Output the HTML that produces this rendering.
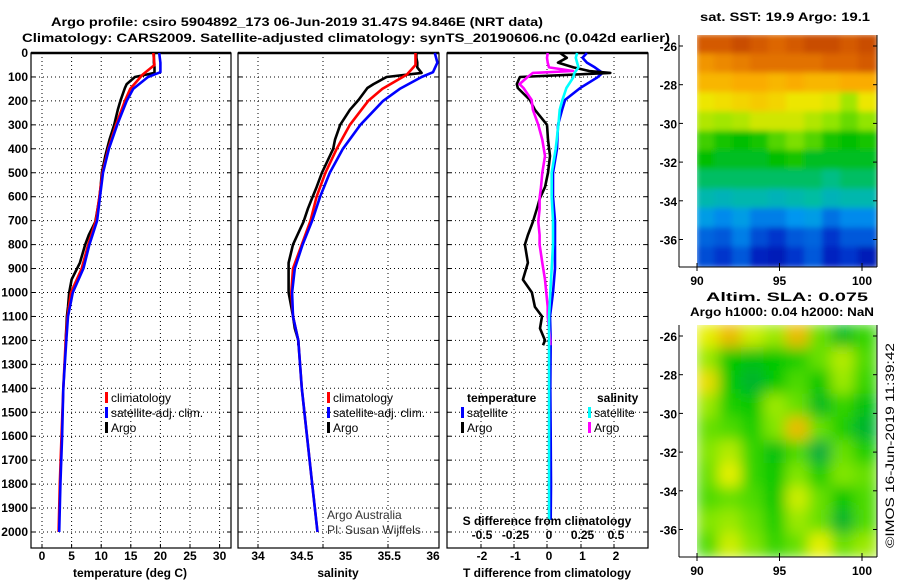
<!DOCTYPE html>
<html><head><meta charset="utf-8"><style>
body{margin:0;background:#fff;}
svg{display:block;font-family:"Liberation Sans",sans-serif;}
.b{font-weight:bold;font-size:12px;}
.t{font-size:12px;}
</style></head><body>
<svg id="s" width="900" height="580" viewBox="0 0 900 580">
<defs>
<filter id="blur1" x="0" y="0" width="1" height="1"><feGaussianBlur stdDeviation="3"/></filter>
<filter id="blur2" x="0" y="0" width="1" height="1"><feGaussianBlur stdDeviation="7"/></filter>
<clipPath id="c1"><rect x="697" y="35" width="180" height="232"/></clipPath>
<clipPath id="c2"><rect x="697" y="325" width="180" height="232"/></clipPath>
</defs>
<text x="51" y="26" class="b" font-size="14.5" textLength="492" lengthAdjust="spacingAndGlyphs">Argo profile: csiro 5904892_173 06-Jun-2019 31.47S 94.846E (NRT data)</text>
<text x="22" y="42" class="b" font-size="14.5" textLength="648" lengthAdjust="spacingAndGlyphs">Climatology: CARS2009. Satellite-adjusted climatology: synTS_20190606.nc (0.042d earlier)</text>
<text x="700" y="21" class="b" font-size="13" textLength="170" lengthAdjust="spacingAndGlyphs">sat. SST: 19.9 Argo: 19.1</text>
<text x="706" y="301" class="b" font-size="13" textLength="162" lengthAdjust="spacingAndGlyphs">Altim. SLA: 0.075</text>
<text x="690" y="316" class="b" font-size="13" textLength="184" lengthAdjust="spacingAndGlyphs">Argo h1000: 0.04 h2000: NaN</text>
<text transform="translate(894,548) rotate(-90)" class="t" textLength="205" lengthAdjust="spacingAndGlyphs">©IMOS 16-Jun-2019 11:39:42</text>
<g id="g"></g>
</svg>
<script>
// ---- data ----
const depthTicks=[0,100,200,300,400,500,600,700,800,900,1000,1100,1200,1300,1400,1500,1600,1700,1800,1900,2000];
const tempTicks=[0,5,10,15,20,25,30];
const salTicks=[34,34.5,35,35.5,36];
const salTickLabels=["34","34.5","35","35.5","36"];
const tdTicks=[-2,-1,0,1,2];
const sdTicks=[-0.5,-0.25,0,0.25,0.5];
const sdTickLabels=["-0.5","-0.25","0","0.25","0.5"];

const argoDepth=[0,20,40,60,83,100,130,146,196,237,300,362,400,430,500,560,605,650,705,760,800,876,946,1000,1060,1100,1150,1200,1220];
const argoTemp=[18.9,18.9,18.9,19.0,19.0,15.7,14.3,14.0,13.3,12.8,12.2,11.4,11.0,10.7,10.1,9.9,9.7,9.4,9.0,7.9,7.3,6.4,5.0,4.6,4.4,4.2,4.1,4.0,4.0];
const argoSal=[35.81,35.81,35.82,35.82,35.87,35.47,35.32,35.25,35.15,35.05,34.94,34.88,34.86,34.82,34.73,34.67,34.62,34.57,34.52,34.45,34.40,34.35,34.35,34.35,34.38,34.40,34.42,34.46,34.46];
const climDepth=[0,50,90,150,200,300,400,500,600,700,800,900,1000,1100,1200,1400,1600,1800,2000];
const climTemp=[18.8,19.0,17.0,14.9,14.0,12.5,11.2,10.2,9.7,9.1,7.8,6.7,4.9,4.3,4.0,3.6,3.3,3.0,2.8];
const climSal=[35.80,35.80,35.70,35.42,35.26,35.05,34.90,34.77,34.67,34.60,34.50,34.40,34.38,34.40,34.46,34.50,34.56,34.62,34.68];
const satDepth=[0,40,80,100,150,200,300,400,500,600,700,800,900,1000,1100,1200,1400,1600,1800,2000];
const satTemp=[19.8,20.0,20.0,17.9,15.4,14.3,12.7,11.3,10.3,9.8,9.3,8.0,7.0,5.2,4.4,4.1,3.6,3.4,3.1,2.9];
const satSal=[36.02,36.05,36.00,35.87,35.62,35.43,35.17,34.97,34.82,34.71,34.62,34.51,34.42,34.39,34.40,34.46,34.50,34.56,34.62,34.68];

const dDepth=[0,20,40,60,75,83,100,130,146,196,237,300,362,430,500,560,605,650,705,760,800,876,946,1000,1060,1100,1150,1200,1220];
const argoTdiff=[0.33,0.53,0.27,0.73,1.2,1.83,-0.87,-0.96,-0.93,-0.57,-0.42,-0.06,-0.03,0.03,-0.03,-0.12,-0.27,-0.36,-0.48,-0.63,-0.72,-0.63,-0.78,-0.51,-0.42,-0.21,-0.27,-0.12,-0.18];
const argoSdiff=[-0.01,-0.015,-0.01,0.0,0.18,-0.12,-0.16,-0.22,-0.19,-0.13,-0.12,-0.08,-0.05,-0.03,-0.05,-0.06,-0.07,-0.07,-0.08,-0.07,-0.07,-0.05,-0.03,-0.02,-0.01,-0.01,0.0,0.01,0.01];
const sDepth=[0,20,40,60,83,103,146,196,237,300,400,500,600,700,800,900,1000,1100,1200,1400,1600,1800,1950];
const satTdiff=[1.13,1.0,1.13,1.37,1.6,1.43,0.93,0.48,0.39,0.27,0.24,0.12,0.12,0.18,0.18,0.18,0.12,0.03,0.05,0.04,0.05,0.06,0.05];
const satSdiff=[0.21,0.2,0.21,0.22,0.19,0.18,0.13,0.10,0.08,0.07,0.05,0.02,0.02,0.03,0.03,0.02,0.01,0.0,0.0,0.0,0.0,0.0,0.0];

const lonTicks=[90,95,100];
const latTicks=[-26,-28,-30,-32,-34,-36];
// SST field (deg C), rows north->south (-26 .. -37), cols 90..100
const sstRows=[
[21.6,21.6,21.7,21.6,21.5,21.6,21.7,21.7,21.6,21.7],
[21.1,21.2,21.3,21.4,21.4,21.4,21.4,21.5,21.5,21.6],
[20.8,20.8,20.9,20.9,20.8,20.9,20.8,20.8,20.9,20.9],
[20.3,20.4,20.5,20.6,20.5,20.3,20.3,20.2,19.8,20.3],
[19.9,19.8,19.9,20.1,20.1,20.1,19.9,19.7,19.5,19.7],
[19.3,19.1,19.0,19.1,19.4,19.6,19.4,19.1,19.0,19.1],
[19.0,18.9,18.9,18.9,19.0,19.1,18.9,18.9,18.9,18.9],
[18.7,18.7,18.7,18.7,18.7,18.7,18.7,18.6,18.7,18.7],
[18.4,18.3,18.4,18.4,18.3,18.4,18.5,18.3,18.4,18.4],
[17.9,17.7,17.9,17.6,17.6,17.8,17.9,17.5,17.7,17.7],
[17.4,17.3,17.6,17.2,17.0,17.3,17.4,17.0,17.3,17.3],
[17.2,17.0,17.3,16.8,16.7,17.0,17.3,16.8,17.0,16.7]];
const sstMin=16, sstMax=22;
// SLA field (m)
const slaRows=[
[0.10,0.16,0.08,0.04,0.16,0.0,-0.12,-0.04],
[0.04,-0.08,-0.10,-0.08,-0.06,0.0,0.06,-0.02],
[0.12,-0.08,-0.14,-0.08,-0.02,-0.08,0.04,-0.04],
[0.04,-0.06,-0.08,0.04,0.0,-0.12,-0.04,-0.10],
[0.0,-0.02,-0.06,0.02,0.16,0.0,-0.06,-0.14],
[0.02,0.06,-0.04,-0.10,-0.02,-0.16,0.0,-0.06],
[0.0,0.10,-0.04,-0.08,0.02,-0.06,0.02,0.0],
[-0.02,0.0,-0.02,-0.08,0.08,0.0,-0.08,-0.02],
[0.02,0.04,0.0,-0.06,0.04,0.0,-0.14,-0.02],
[-0.02,0.08,0.02,-0.04,0.0,0.10,0.0,0.04]];
const slaMin=-0.2, slaMax=0.2;

// ---- drawing ----
const NS='http://www.w3.org/2000/svg';
const G=document.getElementById('g');
function mk(tag,attrs,parent){const e=document.createElementNS(NS,tag);for(const k in attrs)e.setAttribute(k,attrs[k]);(parent||G).appendChild(e);return e;}
const TOP=53, BOT=548;
const yD=d=>TOP+d*0.2395;
const xT=t=>42+t*5.92;
const xS=s=>258+(s-34)*87.5;
const xTd=v=>549+v*33.5;
const xSd=v=>549+v*134;

function panel(name,x0,x1,gridX){
  const g=mk('g',{});
  
  
  depthTicks.forEach(d=>{ if(d>0) mk('line',{x1:x0,x2:x1,y1:yD(d),y2:yD(d),stroke:'#000','stroke-width':1,'stroke-dasharray':'1,3'},g);
    mk('line',{x1:x0,x2:x0+4,y1:yD(d),y2:yD(d),stroke:'#000'},g);mk('line',{x1:x1-4,x2:x1,y1:yD(d),y2:yD(d),stroke:'#000'},g);});
  gridX.forEach(x=>{mk('line',{x1:x,x2:x,y1:TOP,y2:BOT,stroke:'#000','stroke-dasharray':'1,3'},g);
    mk('line',{x1:x,x2:x,y1:BOT-4,y2:BOT,stroke:'#000'},g);});
  mk('rect',{x:x0,y:TOP,width:x1-x0,height:BOT-TOP,fill:'none',stroke:'#000','stroke-width':1.2},g);
  mk('line',{x1:x0,x2:x1,y1:TOP,y2:TOP,stroke:'#000','stroke-width':2.5},g);
  return g;
}
function line(g,name,xs,ds,fx,color){
  const p=mk('polyline',{points:xs.map((v,i)=>fx(v).toFixed(1)+','+yD(ds[i]).toFixed(1)).join(' '),fill:'none',stroke:color,'stroke-width':2.6,'stroke-linejoin':'round'},g);
  
  
}
function txt(s,x,y,cls,anchor,name,extra){const t=mk('text',Object.assign({x:x,y:y,class:cls,'text-anchor':anchor||'start'},extra||{}));t.textContent=s;
  
  return t;}

// depth labels
depthTicks.forEach(d=>txt(String(d),28,yD(d)+4,'b','end','depth-tick-label'));

// panel 1
const p1=panel('temperature-panel',31,231,tempTicks.map(xT));
line(p1,'argo-temperature-line',argoTemp,argoDepth,xT,'#000');
line(p1,'climatology-temperature-line',climTemp,climDepth,xT,'#f00');
line(p1,'satellite-temperature-line',satTemp,satDepth,xT,'#00f');
tempTicks.forEach(t=>txt(String(t),xT(t),560,'b','middle','temperature-tick-label'));
txt('temperature (deg C)',130,577,'b','middle','temperature-axis-title');

// panel 2
const p2=panel('salinity-panel',238,439,[258,323,388]);
line(p2,'argo-salinity-line',argoSal,argoDepth,xS,'#000');
line(p2,'climatology-salinity-line',climSal,climDepth,xS,'#f00');
line(p2,'satellite-salinity-line',satSal,satDepth,xS,'#00f');
salTicks.forEach((s,i)=>txt(salTickLabels[i],xS(s),560,'b','middle','salinity-tick-label'));
txt('salinity',338,577,'b','middle','salinity-axis-title');

// panel 3
const p3=panel('difference-panel',447,648,[481,514,547,581,614]);
line(p3,'satellite-tdiff-line',satTdiff,sDepth,xTd,'#00f');
line(p3,'argo-tdiff-line',argoTdiff,dDepth,xTd,'#000');
line(p3,'argo-sdiff-line',argoSdiff,dDepth,xSd,'#f0f');
line(p3,'satellite-sdiff-line',satSdiff,sDepth,xSd,'#0ff');
tdTicks.forEach(t=>txt(String(t),xTd(t),560,'b','middle','tdiff-tick-label'));
txt('T difference from climatology',547,577,'b','middle','tdiff-axis-title');
sdTicks.forEach((s,i)=>txt(sdTickLabels[i],xSd(s),539,'b','middle','sdiff-tick-label'));
txt('S difference from climatology',547,525,'b','middle','sdiff-axis-title');

// legends
function leg(x,y,color,label,name,bold){mk('rect',{x:x,y:y-10,width:3,height:11,fill:color});
  txt(label,x+6,y,bold?'b':'t','start',name,{'font-size':'12.5'});}
[[105,'#f00','climatology'],[105,'#00f','satellite-adj. clim.'],[105,'#000','Argo']].forEach((l,i)=>leg(l[0],402+i*15,l[1],l[2],'temperature-legend-entry'));
[[327,'#f00','climatology'],[327,'#00f','satellite-adj. clim.'],[327,'#000','Argo']].forEach((l,i)=>leg(l[0],402+i*15,l[1],l[2],'salinity-legend-entry'));
txt('temperature',467,402,'b','start','diff-legend-temperature-header');
txt('salinity',597,402,'b','start','diff-legend-salinity-header');
leg(461,417,'#00f','satellite','diff-legend-entry');leg(461,432,'#000','Argo','diff-legend-entry');
leg(588,417,'#0ff','satellite','diff-legend-entry');leg(588,432,'#f0f','Argo','diff-legend-entry');
txt('Argo Australia',327,519,'t','start','credit-line-1',{fill:'#333'});
txt('PI: Susan Wijffels',327,534,'t','start','credit-line-2',{fill:'#333'});

// colormaps
function interp(stops,f){f=Math.max(0,Math.min(1,f));for(let i=1;i<stops.length;i++){if(f<=stops[i][0]){const a=stops[i-1],b=stops[i],u=(f-a[0])/(b[0]-a[0]||1);
  return 'rgb('+[1,2,3].map(k=>Math.round(a[k]+(b[k]-a[k])*u)).join(',')+')';}}return 'rgb(0,0,0)';}
const jet=[[0,0,0,130],[0.15,0,40,200],[0.3,0,150,240],[0.42,0,190,160],[0.5,0,190,0],[0.62,150,230,0],[0.72,240,230,0],[0.82,250,170,0],[0.92,220,100,0],[1,170,40,0]];
const slaMap=[[0,0,160,90],[0.3,0,200,0],[0.55,130,230,0],[0.75,230,240,0],[1,240,150,0]];
const xLon=l=>697+(l-90)*16.5;
function map(name,top,rows,vmin,vmax,cmap,clip,filt){
  const g=mk('g',{});
  
  
  const yLat=la=>top+11+(-26-la)*19.35;
  const gi=mk('g',{'clip-path':'url(#'+clip+')'},g);
  const gf=mk('g',{filter:'url(#'+filt+')'},gi);
  const nr=rows.length,nc=rows[0].length,cw=180/nc,rh=232/nr;
  rows.forEach((r,i)=>r.forEach((v,j)=>{const c=mk('rect',{x:697+j*cw-1,y:top+i*rh-1,width:cw+2,height:rh+2,fill:interp(cmap,(v-vmin)/(vmax-vmin))},gf);
    
    }));
  mk('line',{x1:679,x2:679,y1:top,y2:top+232,stroke:'#000'},g);
  mk('line',{x1:679,x2:877,y1:top+232,y2:top+232,stroke:'#000'},g);
  mk('line',{x1:877,x2:877,y1:top,y2:top+232,stroke:'#000'},g);
  latTicks.forEach(la=>{const y=yLat(la);mk('line',{x1:679,x2:683,y1:y,y2:y,stroke:'#000'},g);mk('line',{x1:873,x2:877,y1:y,y2:y,stroke:'#000'},g);
    txt(String(la),677,y+5,'b','end','latitude-tick-label',{'font-size':'13'});});
  lonTicks.forEach(lo=>{const x=xLon(lo);mk('line',{x1:x,x2:x,y1:top+228,y2:top+236,stroke:'#000'},g);
    txt(String(lo),x,top+250,'b','middle','longitude-tick-label',{'font-size':'13'});});
}
map('sst-map',35,sstRows,sstMin,sstMax,jet,'c1','blur1');
map('sla-map',325,slaRows,slaMin,slaMax,slaMap,'c2','blur2');
</script>
</body></html>
